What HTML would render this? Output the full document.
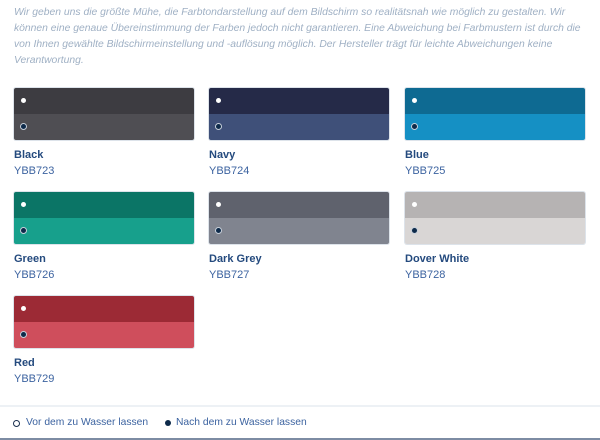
<!DOCTYPE html>
<html><head><style>
body{margin:0;width:600px;height:440px;background:#fff;font-family:"Liberation Sans",sans-serif;position:relative;overflow:hidden}
.p{position:absolute;left:14px;top:5px;white-space:nowrap;font-size:10.35px;line-height:16px;font-style:italic;color:#9fb0c4}
.sw{position:absolute;width:180px;height:52px;border-radius:2px;overflow:hidden;box-shadow:0 0 0 1px #dde3ea}
.sw div{height:26px;position:relative}
.sw div::after{content:"";position:absolute;left:7px;top:10px;width:5px;height:5px;border-radius:50%}
.t::after{background:#fff}
.b::after{background:#0d2a4a;box-shadow:0 0 0 1px #c8d0da}
.n{position:absolute;font-size:11px;font-weight:bold;color:#244a7e}
.c{position:absolute;font-size:11px;color:#3c63a0}
.leg{position:absolute;top:417px;font-size:10.3px;color:#3c63a0}
</style></head><body>
<div class="p">Wir geben uns die größte Mühe, die Farbtondarstellung auf dem Bildschirm so realitätsnah wie möglich zu gestalten. Wir<br>können eine genaue Übereinstimmung der Farben jedoch nicht garantieren. Eine Abweichung bei Farbmustern ist durch die<br>von Ihnen gewählte Bildschirmeinstellung und -auflösung möglich. Der Hersteller trägt für leichte Abweichungen keine<br>Verantwortung.</div>

<div class="sw" style="left:14px;top:88px"><div class="t" style="background:#3d3c41"></div><div class="b" style="background:#4f4e53"></div></div>
<div class="n" style="left:14px;top:149px">Black</div><div class="c" style="left:14px;top:165px">YBB723</div>

<div class="sw" style="left:209px;top:88px"><div class="t" style="background:#252a48"></div><div class="b" style="background:#3f5079"></div></div>
<div class="n" style="left:209px;top:149px">Navy</div><div class="c" style="left:209px;top:165px">YBB724</div>

<div class="sw" style="left:405px;top:88px"><div class="t" style="background:#0e6a92"></div><div class="b" style="background:#1590c4"></div></div>
<div class="n" style="left:405px;top:149px">Blue</div><div class="c" style="left:405px;top:165px">YBB725</div>

<div class="sw" style="left:14px;top:192px"><div class="t" style="background:#0b7566"></div><div class="b" style="background:#17a08c"></div></div>
<div class="n" style="left:14px;top:253px">Green</div><div class="c" style="left:14px;top:269px">YBB726</div>

<div class="sw" style="left:209px;top:192px"><div class="t" style="background:#5f626d"></div><div class="b" style="background:#80848f"></div></div>
<div class="n" style="left:209px;top:253px">Dark Grey</div><div class="c" style="left:209px;top:269px">YBB727</div>

<div class="sw" style="left:405px;top:192px"><div class="t" style="background:#b6b3b3"></div><div class="b" style="background:#d9d6d5"></div></div>
<div class="n" style="left:405px;top:253px">Dover White</div><div class="c" style="left:405px;top:269px">YBB728</div>

<div class="sw" style="left:14px;top:296px"><div class="t" style="background:#9c2a35"></div><div class="b" style="background:#cf4e5c"></div></div>
<div class="n" style="left:14px;top:357px">Red</div><div class="c" style="left:14px;top:373px">YBB729</div>

<div style="position:absolute;left:0;top:405px;width:600px;height:2px;background:#edf1f5"></div>
<div style="position:absolute;left:13px;top:420px;width:5px;height:5px;border-radius:50%;border:1px solid #1a2f4f"></div>
<div class="leg" style="left:26px">Vor dem zu Wasser lassen</div>
<div style="position:absolute;left:165px;top:420px;width:6px;height:6px;border-radius:50%;background:#0d2a4a"></div>
<div class="leg" style="left:176px">Nach dem zu Wasser lassen</div>
<div style="position:absolute;left:0;top:438px;width:600px;height:2px;background:#7d8ca3"></div>
</body></html>
